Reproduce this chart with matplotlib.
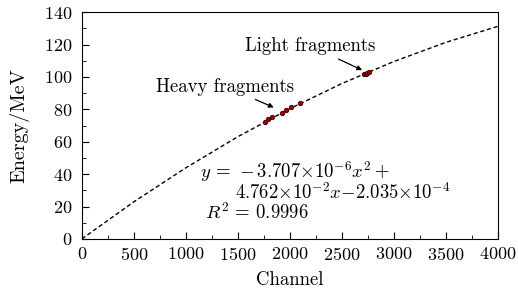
import matplotlib
matplotlib.use('Agg')
import matplotlib.pyplot as plt
from matplotlib.ticker import MultipleLocator

# fitted curve
fit_channel = [0, 500, 1000, 1500, 2000, 2500, 3000, 3500, 4000]
fit_energy = [0.0, 22.9, 43.9, 63.1, 80.4, 95.9, 109.5, 121.3, 131.2]

# measured points
heavy_channel = [1760, 1790, 1825, 1920, 1962, 2016, 2096]
heavy_energy = [72.4, 73.8, 75.1, 78.0, 79.3, 81.2, 83.7]
light_channel = [2715, 2730, 2745, 2760]
light_energy = [101.7, 102.1, 102.5, 102.9]


def main():
    plt.rcParams['font.family'] = 'serif'
    plt.rcParams['font.serif'] = ['cmr10']
    plt.rcParams['mathtext.fontset'] = 'cm'
    plt.rcParams['axes.formatter.use_mathtext'] = True

    fig = plt.figure(figsize=(5.18, 2.95), dpi=100)
    ax = fig.add_axes([0.158, 0.190, 0.803, 0.769])

    ax.plot(fit_channel, fit_energy, color='black', lw=1.0, dashes=(3, 2))
    ax.plot(heavy_channel, heavy_energy, 'o', ms=3.2, mfc='#9a0000', mec='#400000', mew=0.6)
    ax.plot(light_channel, light_energy, 'o', ms=3.2, mfc='#9a0000', mec='#400000', mew=0.6)

    ax.set_xlim(0, 4000)
    ax.set_ylim(0, 140)
    ax.xaxis.set_major_locator(MultipleLocator(500))
    ax.xaxis.set_minor_locator(MultipleLocator(250))
    ax.yaxis.set_major_locator(MultipleLocator(20))
    ax.yaxis.set_minor_locator(MultipleLocator(10))
    ax.tick_params(which='both', direction='in', top=False, right=False, labelsize=13)
    ax.tick_params(which='major', length=5)
    ax.tick_params(axis='y', which='major', pad=7)
    ax.tick_params(axis='x', which='major', pad=5)
    ax.tick_params(which='minor', length=3)

    ax.set_xlabel('Channel', fontsize=13.5, labelpad=6)
    ax.set_ylabel('Energy/MeV', fontsize=14.5, labelpad=10)

    ax.annotate('Light fragments', xy=(2720, 103.5), xytext=(2200, 119),
                ha='center', va='center', fontsize=13.5,
                arrowprops=dict(arrowstyle='-|>', color='black', lw=0.9, mutation_scale=7))
    ax.annotate('Heavy fragments', xy=(1870, 80.5), xytext=(1380, 94),
                ha='center', va='center', fontsize=13.5,
                arrowprops=dict(arrowstyle='-|>', color='black', lw=0.9, mutation_scale=7))

    ax.text(1140, 37.5, r'$y\,=\,-3.707{\times}10^{-6}x^2+$', fontsize=13.5, va='baseline')
    ax.text(1475, 24.5, r'$4.762{\times}10^{-2}x{-}2.035{\times}10^{-4}$', fontsize=13.5, va='baseline')
    ax.text(1180, 12.5, r'$R^2\,=\,0.9996$', fontsize=13.5, va='baseline')

    plt.savefig('out.png', dpi=100)


if __name__ == '__main__':
    main()
